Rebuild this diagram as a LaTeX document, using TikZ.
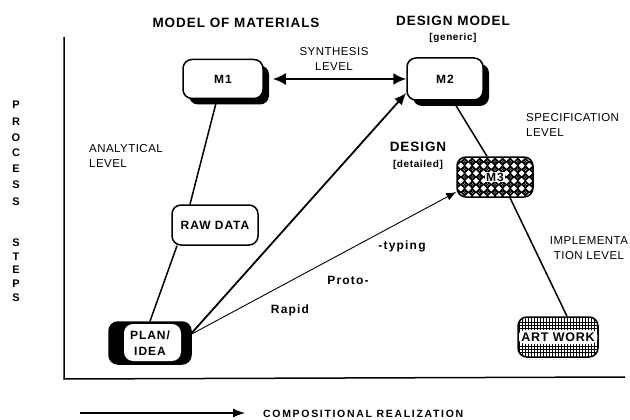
\documentclass[tikz,border=0pt]{standalone}
\usepackage{fontspec}
\setmainfont{Liberation Sans}
\usetikzlibrary{arrows.meta,shadows,backgrounds,calc}
\begin{document}
\begin{tikzpicture}[x=1pt,y=-1pt,
  boxfont/.style={font=\bfseries\fontsize{12}{13}\selectfont\addfontfeature{LetterSpace=8}},
  box/.style={draw=black,line width=1.5pt,rounded corners=9pt,minimum width=78pt,minimum height=40pt,inner sep=0pt,fill=white,boxfont},
  shbox/.style={box,drop shadow={shadow xshift=6pt,shadow yshift=-6pt,fill=black,opacity=1}},
  lbl/.style={font=\fontsize{11.5}{15}\selectfont\addfontfeature{LetterSpace=4},inner sep=0pt},
  head/.style={font=\bfseries\fontsize{13.5}{16}\selectfont\addfontfeature{LetterSpace=7},inner sep=0pt},
  sub/.style={font=\bfseries\fontsize{10}{12}\selectfont\addfontfeature{LetterSpace=6},inner sep=0pt},
  proto/.style={font=\bfseries\fontsize{12}{14}\selectfont\addfontfeature{LetterSpace=10},inner sep=0pt},
  conn/.style={line width=1.5pt},
  tip/.style={-{Latex[length=12pt,width=10pt]}}
]
\useasboundingbox (0,0) rectangle (630,420);
% axes
\draw[line width=1.5pt] (64,37) -- (64,379) -- (625,377);
% vertical label
\foreach \ch/\yy in {P/105,R/122,O/138,C/153,E/169,S/185,S/202,S/243,T/257,E/270,P/284,S/298}
  \node[font=\bfseries\fontsize{11}{11}\selectfont,inner sep=0pt] at (16,\yy) {\ch};
% bottom arrow
\coordinate (ba) at (80,413);
\coordinate (bb) at (245,413);
\draw[line width=1.3pt,-{Latex[length=12pt,width=9pt]}] (ba) -- (bb);
\node[font=\bfseries\fontsize{10.5}{12}\selectfont\addfontfeature{LetterSpace=16},anchor=west,inner sep=0pt] (cr) at (263,414) {COMPOSITIONAL REALIZATION};
% headings
\node[head] (mm) at (236,23) {MODEL OF MATERIALS};
\node[head] (dm) at (453,21) {DESIGN MODEL};
\node[sub] (gen) at (453,38) {[generic]};
\node[lbl,align=center] (syn) at (334,59) {SYNTHESIS\\LEVEL};
\node[lbl,align=left,anchor=west] (ana) at (89,156) {ANALYTICAL\\LEVEL};
\node[head] (des) at (418,147) {DESIGN};
\node[sub] (det) at (418,165) {[detailed]};
\node[lbl,align=left,anchor=west] (spec) at (526,125) {SPECIFICATION\\LEVEL};
\node[lbl,align=center] (impl) at (589,248) {IMPLEMENTA\\TION LEVEL};
\node[proto] (ty) at (402,246) {-typing};
\node[proto] (pr) at (348,280) {Proto-};
\node[proto] (ra) at (290,310) {Rapid};
% nodes
\node[shbox,minimum width=80pt,minimum height=39pt] (M1) at (223,79) {M1};
\node[shbox,minimum width=76pt,minimum height=42pt] (M2) at (445,79) {M2};
\node[box,minimum width=86pt] (RAW) at (215,225) {RAW DATA};
\node[box,minimum width=76pt,
 label={[fill=white,inner sep=1pt,boxfont]center:M3},
 path picture={
   \foreach \i in {-6,...,6} {\foreach \j in {-4,...,4} {
     \fill[black] ($(path picture bounding box.center)+(\i*7.6,\j*7.6)$) +(-4.3,0) -- +(0,-4.3) -- +(4.3,0) -- +(0,4.3) -- cycle;}}
 }] (M3) at (495,177) {};
\node[box,minimum width=80pt,font=\bfseries\fontsize{12.5}{13}\selectfont\addfontfeature{LetterSpace=6},path picture={
   \foreach \i in {-14,...,14}
     \draw[black,line width=0.9pt] ($(path picture bounding box.center)+(\i*3,-25)$) -- ++(0,50);
   \foreach \j in {-15,-12,-9,9,12,15}
     \draw[black,line width=0.7pt] ($(path picture bounding box.center)+(-45,\j)$) -- ++(90,0);
   \fill[white] ($(path picture bounding box.center)+(-41,-7)$) rectangle ($(path picture bounding box.center)+(41,7)$);
 }] (ART) at (558,337) {ART WORK};
\node[box,minimum width=82pt,minimum height=42pt,fill=black,align=center,font=\bfseries\fontsize{12}{16}\selectfont\addfontfeature{LetterSpace=8},path picture={
   \fill[white] ($(path picture bounding box.center)+(-26,-19)$) rectangle ($(path picture bounding box.center)+(31,18)$);
 }] (PLAN) at (150,343) {PLAN/\\IDEA};
% connectors
\begin{pgfonlayer}{background}
\draw[conn] ([xshift=-6pt]M1.south) -- ([xshift=-25pt]RAW.north);
\draw[conn] ([xshift=-38pt]RAW.south) -- (PLAN.north);
\draw[conn] ([xshift=8pt]M2.south) -- ([xshift=-8pt]M3.north);
\draw[conn] ([xshift=15pt]M3.south) -- ([xshift=9pt]ART.north);
\end{pgfonlayer}
\draw[line width=2.2pt,{Latex[length=13pt,width=12pt]}-{Latex[length=13pt,width=12pt]}] ([xshift=9pt]M1.east) -- (M2.west);
\draw[conn,line width=1.8pt,tip] ([yshift=10pt]PLAN.east) -- ([yshift=-14pt]M2.west);
\draw[line width=0.9pt,-{Latex[length=10pt,width=8pt]}] ([yshift=9pt]PLAN.east) -- ([yshift=-15pt]M3.west);
\end{tikzpicture}
\end{document}
